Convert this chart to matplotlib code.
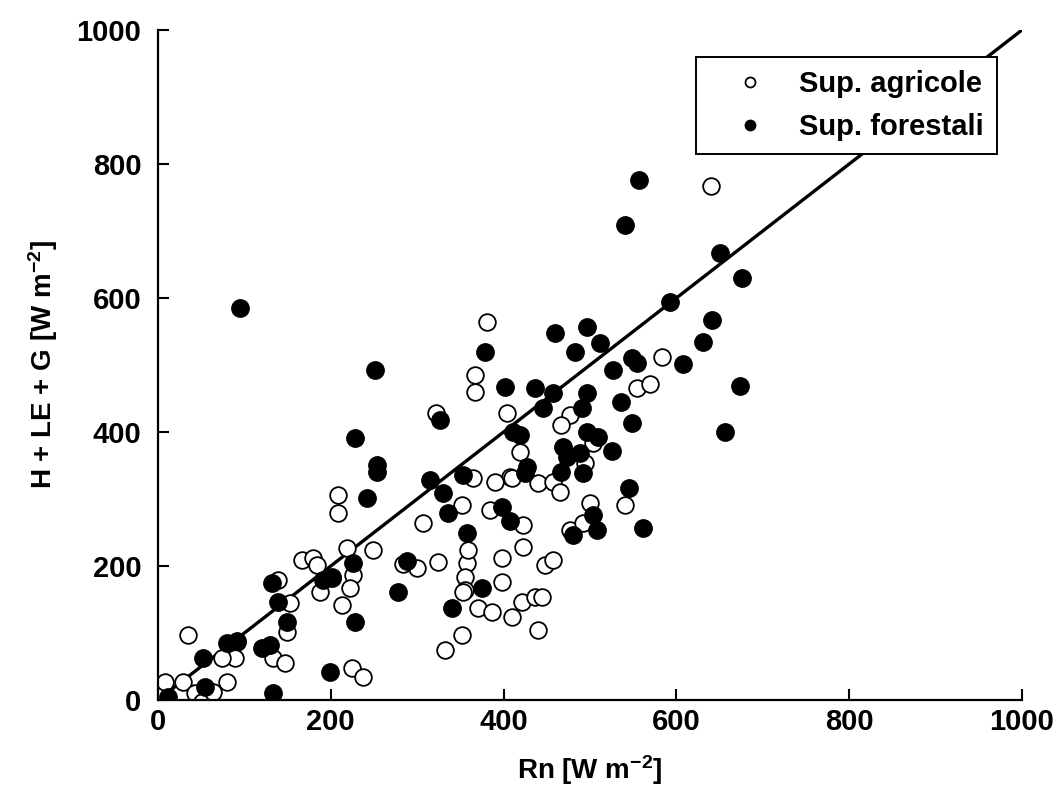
import matplotlib
matplotlib.use('Agg')
import matplotlib.pyplot as plt

plt.rcParams['font.family'] = ['Liberation Sans', 'DejaVu Sans']
plt.rcParams['font.weight'] = 'bold'
plt.rcParams['axes.labelweight'] = 'bold'
plt.rcParams['mathtext.fontset'] = 'custom'
plt.rcParams['mathtext.rm'] = 'Liberation Sans:bold'
plt.rcParams['mathtext.default'] = 'regular'
plt.rcParams['axes.unicode_minus'] = False

# Sup. agricole (open circles): Rn, H+LE+G  [W m-2]
agr_x = [381, 367, 367, 322, 404, 477, 467, 419, 503, 494, 407, 440, 457, 465,
         500, 540, 422, 477, 492, 583, 554, 569, 640, 422, 398, 448, 457, 398,
         421, 436, 444, 410, 440, 300, 284, 324, 358, 226, 222, 355, 355, 213,
         370, 387, 352, 332, 225, 237, 365, 390, 410, 208, 208, 352, 384, 307,
         359, 219, 249, 353, 167, 179, 184, 139, 153, 188, 149, 35, 92, 89,
         133, 147, 74, 8, 29, 80, 43, 51, 64]
agr_y = [564, 485, 460, 428, 428, 425, 410, 370, 383, 354, 333, 324, 325, 310,
         294, 291, 261, 254, 264, 512, 466, 472, 767, 228, 212, 201, 209, 176,
         146, 154, 154, 124, 104, 197, 203, 206, 204, 187, 167, 184, 164, 142,
         137, 131, 97, 75, 48, 34, 331, 325, 331, 306, 279, 291, 284, 264,
         224, 227, 224, 161, 209, 212, 201, 179, 145, 161, 101, 97, 87, 63,
         63, 55, 63, 27, 27, 27, 10, -3, 12]

# Sup. forestali (filled circles)
for_x = [95, 540, 557, 650, 676, 593, 641, 631, 512, 608, 549, 527, 554, 674,
         536, 549, 656, 525, 545, 561, 459, 496, 483, 402, 436, 457, 496, 446,
         491, 411, 419, 496, 509, 469, 473, 488, 427, 492, 467, 503, 398, 408,
         508, 480, 226, 288, 278, 375, 340, 228, 253, 315, 330, 353, 425, 242,
         336, 358, 201, 378, 251, 326, 228, 253, 132, 139, 191, 201, 149, 80,
         92, 120, 130, 52, 199, 54, 12, 133]
for_y = [585, 709, 776, 667, 630, 594, 567, 534, 533, 501, 510, 493, 503, 469,
         445, 413, 400, 372, 316, 257, 548, 557, 519, 467, 466, 458, 458, 436,
         436, 400, 395, 400, 393, 378, 363, 369, 348, 339, 340, 276, 288, 267,
         254, 246, 204, 208, 161, 167, 137, 116, 340, 328, 309, 336, 339, 301,
         279, 249, 182, 519, 493, 418, 391, 351, 175, 146, 179, 184, 116, 85,
         88, 78, 82, 63, 42, 19, 4, 10]

# 1:1 line
line_x = [5, 1000]
line_y = [5, 1000]

fig = plt.figure(figsize=(10.63, 7.98), dpi=100)
ax = fig.add_axes([0.1486, 0.1228, 0.8128, 0.8396])

ax.plot(line_x, line_y, color='black', lw=2.4, zorder=1)
ax.plot(agr_x, agr_y, 'o', ms=12, mfc='white', mec='black', mew=1.3,
        label='Sup. agricole', zorder=2)
ax.plot(for_x, for_y, 'o', ms=12.5, mfc='black', mec='black',
        label='Sup. forestali', zorder=3)

ax.set_xlim(0, 1000)
ax.set_ylim(0, 1000)
ax.set_xticks(range(0, 1001, 200))
ax.set_yticks(range(0, 1001, 200))
ax.spines['top'].set_visible(False)
ax.spines['right'].set_visible(False)
ax.spines['left'].set_linewidth(1.6)
ax.spines['bottom'].set_linewidth(1.6)
ax.tick_params(direction='in', length=8, width=1.5, labelsize=21)
ax.tick_params(axis='x', pad=6)
ax.tick_params(axis='y', pad=12)

ax.set_xlabel('Rn [W m$^{-2}$]', fontsize=20, labelpad=12)
ax.set_ylabel('H + LE + G [W m$^{-2}$]', fontsize=20, labelpad=12)

leg = ax.legend(loc='upper right', bbox_to_anchor=(0.988, 0.981), fontsize=21,
                markerscale=0.6, fancybox=False, framealpha=1,
                edgecolor='black', handlelength=2.8, handletextpad=0.3,
                borderpad=0.45, labelspacing=0.5)
leg.get_frame().set_linewidth(1.4)

fig.savefig('out.png', dpi=100)
